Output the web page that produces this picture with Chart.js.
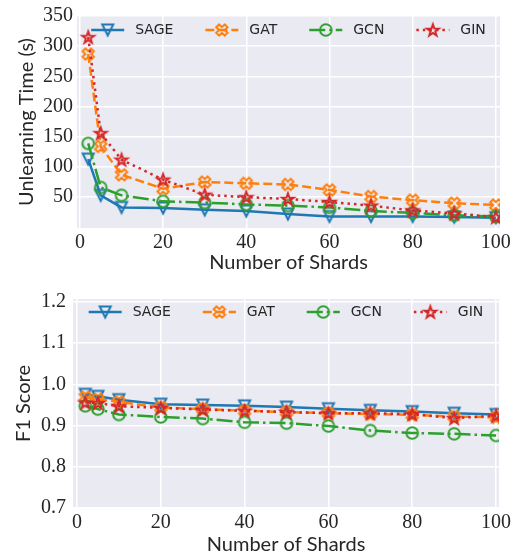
<!DOCTYPE html>
<html>
<head>
<meta charset="utf-8">
<script src="https://cdn.jsdelivr.net/npm/chart.js@4.4.0/dist/chart.umd.min.js"></script>
<style>
  body { margin: 0; background: #fff; }
  .panel { position: absolute; left: 0; }
</style>
</head>
<body>
<div class="panel" style="top:0"><canvas id="timeChart" width="521" height="280"></canvas></div>
<div class="panel" style="top:280px"><canvas id="f1Chart" width="521" height="279"></canvas></div>
<script>
// data
const shards = [2, 5, 10, 20, 30, 40, 50, 60, 70, 80, 90, 100];
const models = ["SAGE", "GAT", "GCN", "GIN"];

const timeSage = [113, 53, 33, 32, 29, 27, 22, 18, 18, 18, 17, 16];
const timeGat  = [287, 134, 87, 64, 75, 73, 71, 62, 51, 45, 40, 37];
const timeGcn  = [139, 66, 53, 43, 41, 38, 36, 33, 27, 24, 20, 18];
const timeGin  = [315, 156, 112, 79, 54, 50, 47, 42, 36, 28, 23, 17];

const f1Sage = [0.976, 0.971, 0.963, 0.952, 0.950, 0.948, 0.945, 0.941, 0.937, 0.934, 0.930, 0.927];
const f1Gat  = [0.969, 0.964, 0.958, 0.944, 0.940, 0.936, 0.933, 0.930, 0.928, 0.926, 0.922, 0.920];
const f1Gcn  = [0.948, 0.940, 0.927, 0.921, 0.917, 0.908, 0.906, 0.899, 0.888, 0.882, 0.880, 0.876];
const f1Gin  = [0.956, 0.955, 0.947, 0.943, 0.939, 0.936, 0.933, 0.930, 0.930, 0.928, 0.918, 0.924];

const xTicks = [0, 20, 40, 60, 80, 100];
const timeTicks = [50, 100, 150, 200, 250, 300, 350];
const f1Ticks = [0.7, 0.8, 0.9, 1.0, 1.1, 1.2];

const TEXT = "#262626";
const styles = [
  { color: "#1f77b4", dash: [], shape: "tri" },
  { color: "#ff7f0e", dash: [9, 4], shape: "x" },
  { color: "#2ca02c", dash: [16, 4, 2.5, 4], shape: "circle" },
  { color: "#d62728", dash: [2.5, 4], shape: "star" }
];

// hollow markers, drawn once on small canvases
function marker(shape, color) {
  const c = document.createElement("canvas");
  c.width = 20; c.height = 20;
  const g = c.getContext("2d");
  g.strokeStyle = color;
  g.lineWidth = 2;
  g.beginPath();
  if (shape === "tri") {
    g.moveTo(4.5, 4.5); g.lineTo(15.5, 4.5); g.lineTo(10, 15.5); g.closePath();
  } else if (shape === "circle") {
    g.arc(10, 10, 5.8, 0, Math.PI * 2);
  } else if (shape === "x") {
    const pts = [[-1, -3], [-1, -1], [-3, -1], [-3, 1], [-1, 1], [-1, 3], [1, 3], [1, 1], [3, 1], [3, -1], [1, -1], [1, -3]];
    const a = Math.PI / 4, s = 2.0;
    pts.forEach((p, i) => {
      const x = 10 + s * (p[0] * Math.cos(a) - p[1] * Math.sin(a));
      const y = 10 + s * (p[0] * Math.sin(a) + p[1] * Math.cos(a));
      i ? g.lineTo(x, y) : g.moveTo(x, y);
    });
    g.closePath();
  } else {
    for (let i = 0; i < 10; i++) {
      const r = i % 2 ? 2.5 : 6.2;
      const a = -Math.PI / 2 + i * Math.PI / 5;
      const x = 10 + r * Math.cos(a), y = 10.5 + r * Math.sin(a);
      i ? g.lineTo(x, y) : g.moveTo(x, y);
    }
    g.closePath();
  }
  g.stroke();
  return c;
}

// legend: line sample with marker in the middle, placed inside the plot
const lineLegend = {
  id: "lineLegend",
  afterDraw(chart, args, opts) {
    const ctx = chart.ctx, area = chart.chartArea;
    const sets = chart.data.datasets;
    const lineLen = 33, gap = 11, colGap = 32;
    ctx.save();
    ctx.font = "14px 'DejaVu Sans'";
    let total = 0;
    sets.forEach((d, i) => {
      total += lineLen + gap + ctx.measureText(d.label).width + (i ? colGap : 0);
    });
    let x = (area.left + area.right) / 2 - total / 2;
    const y = area.top + opts.offset;
    sets.forEach(d => {
      ctx.strokeStyle = d.borderColor;
      ctx.lineWidth = d.borderWidth;
      ctx.setLineDash(d.borderDash);
      ctx.beginPath();
      ctx.moveTo(x, y);
      ctx.lineTo(x + lineLen, y);
      ctx.stroke();
      ctx.setLineDash([]);
      const img = d.pointStyle;
      ctx.drawImage(img, x + lineLen / 2 - img.width / 2, y - img.height / 2);
      ctx.fillStyle = TEXT;
      ctx.textBaseline = "middle";
      ctx.fillText(d.label, x + lineLen + gap, y);
      x += lineLen + gap + ctx.measureText(d.label).width + colGap;
    });
    ctx.restore();
  }
};

// grey plot background
const plotBg = {
  id: "plotBg",
  beforeDraw(chart) {
    const { ctx, chartArea: a } = chart;
    ctx.save();
    ctx.fillStyle = "#eaeaf2";
    ctx.fillRect(a.left, a.top, a.right - a.left, a.bottom - a.top);
    ctx.restore();
  }
};

function buildChart(id, series, cfg) {
  const datasets = series.map((vals, i) => ({
    label: models[i],
    data: shards.map((s, j) => ({ x: s, y: vals[j] })),
    borderColor: styles[i].color,
    borderWidth: 2.5,
    borderDash: styles[i].dash,
    pointStyle: marker(styles[i].shape, styles[i].color),
    pointRadius: 7,
    fill: false,
    tension: 0,
    order: 3 - i
  }));
  const canvas = document.getElementById(id);
  return new Chart(canvas.getContext("2d"), {
    type: "line",
    data: { datasets: datasets },
    plugins: [plotBg, lineLegend],
    options: {
      responsive: false,
      animation: false,
      layout: { padding: { left: 0, right: canvas.width - cfg.right, top: cfg.top, bottom: 0 } },
      plugins: {
        legend: { display: false },
        tooltip: { enabled: false },
        lineLegend: { offset: cfg.legendOffset }
      },
      scales: {
        x: {
          type: "linear",
          min: cfg.xMin, max: cfg.xMax,
          afterBuildTicks: s => { s.ticks = xTicks.map(v => ({ value: v })); },
          afterFit: s => { s.height = canvas.height - cfg.bottom; },
          grid: { color: "#ffffff", lineWidth: 1.5, drawTicks: false },
          border: { display: false },
          ticks: { color: TEXT, font: { family: "'Liberation Serif'", size: 20 }, padding: 3, maxRotation: 0 },
          title: { display: true, text: "Number of Shards", color: TEXT, font: { family: "Lato", size: 20 }, padding: { top: 0, bottom: cfg.xTitlePad } }
        },
        y: {
          min: cfg.yMin, max: cfg.yMax,
          afterBuildTicks: s => { s.ticks = cfg.yTicks.map(v => ({ value: v })); },
          afterFit: s => { s.width = cfg.left; },
          grid: { color: "#ffffff", lineWidth: 1.5, drawTicks: false },
          border: { display: false },
          ticks: { color: TEXT, font: { family: "'Liberation Serif'", size: 20 }, padding: cfg.yTickPad, callback: cfg.fmt },
          title: { display: true, text: cfg.yTitle, color: TEXT, font: { family: "Lato", size: 20 }, padding: { top: cfg.yTitlePad, bottom: 0 } }
        }
      }
    }
  });
}

buildChart("timeChart", [timeSage, timeGat, timeGcn, timeGin], {
  left: 77, right: 500, top: 15, bottom: 228,
  xMin: -0.7, xMax: 101, yMin: -1.1, yMax: 350,
  yTicks: timeTicks, fmt: v => String(v),
  yTitle: "Unlearning Time (s)", yTitlePad: 15, yTickPad: 4, xTitlePad: 5,
  legendOffset: 14
});

buildChart("f1Chart", [f1Sage, f1Gat, f1Gcn, f1Gin], {
  left: 73, right: 499, top: 19, bottom: 228,
  xMin: -0.95, xMax: 100.7, yMin: 0.7, yMax: 1.2073,
  yTicks: f1Ticks, fmt: v => v.toFixed(1),
  yTitle: "F1 Score", yTitlePad: 12, yTickPad: 7, xTitlePad: 2,
  legendOffset: 13
});
</script>
</body>
</html>
